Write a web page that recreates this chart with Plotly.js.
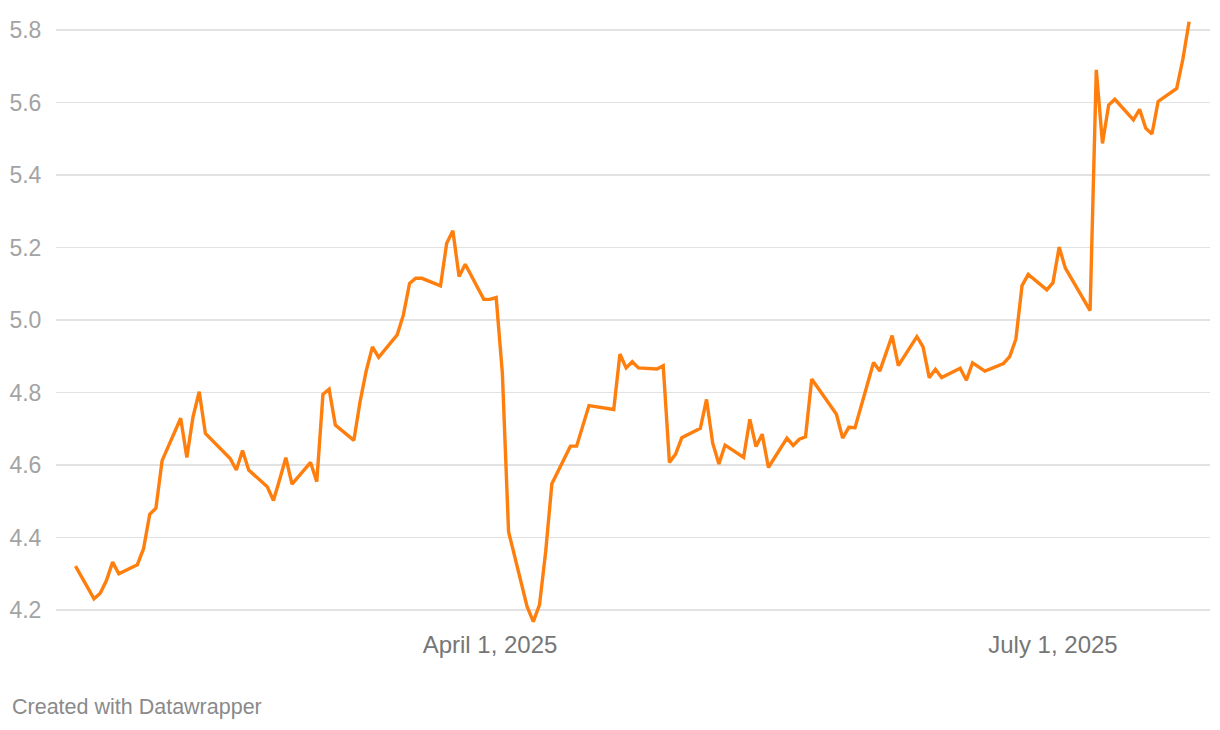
<!DOCTYPE html>
<html>
<head>
<meta charset="utf-8">
<script src="https://cdn.plot.ly/plotly-3.0.1.min.js"></script>
<style>
  html, body { margin: 0; padding: 0; background: #ffffff; }
  #chart { width: 1220px; height: 730px; }
</style>
</head>
<body>
<div id="chart"></div>
<script>
// ---- Data ----
const dates = [
  '2025-01-24','2025-01-27','2025-01-28','2025-01-29','2025-01-30','2025-01-31',
  '2025-02-03','2025-02-04','2025-02-05','2025-02-06','2025-02-07',
  '2025-02-10','2025-02-11','2025-02-12','2025-02-13','2025-02-14',
  '2025-02-18','2025-02-19','2025-02-20','2025-02-21',
  '2025-02-24','2025-02-25','2025-02-26','2025-02-27','2025-02-28',
  '2025-03-03','2025-03-04','2025-03-05','2025-03-06','2025-03-07',
  '2025-03-10','2025-03-11','2025-03-12','2025-03-13','2025-03-14',
  '2025-03-17','2025-03-18','2025-03-19','2025-03-20','2025-03-21',
  '2025-03-24','2025-03-25','2025-03-26','2025-03-27','2025-03-28',
  '2025-03-31','2025-04-01','2025-04-02','2025-04-03','2025-04-04',
  '2025-04-07','2025-04-08','2025-04-09','2025-04-10','2025-04-11',
  '2025-04-14','2025-04-15','2025-04-16','2025-04-17',
  '2025-04-21','2025-04-22','2025-04-23','2025-04-24','2025-04-25',
  '2025-04-28','2025-04-29','2025-04-30','2025-05-01','2025-05-02',
  '2025-05-05','2025-05-06','2025-05-07','2025-05-08','2025-05-09',
  '2025-05-12','2025-05-13','2025-05-14','2025-05-15','2025-05-16',
  '2025-05-19','2025-05-20','2025-05-21','2025-05-22','2025-05-23',
  '2025-05-27','2025-05-28','2025-05-29','2025-05-30',
  '2025-06-02','2025-06-03','2025-06-04','2025-06-05','2025-06-06',
  '2025-06-09','2025-06-10','2025-06-11','2025-06-12','2025-06-13',
  '2025-06-16','2025-06-17','2025-06-18','2025-06-20',
  '2025-06-23','2025-06-24','2025-06-25','2025-06-26','2025-06-27',
  '2025-06-30','2025-07-01','2025-07-02','2025-07-03',
  '2025-07-07','2025-07-08','2025-07-09','2025-07-10','2025-07-11',
  '2025-07-14','2025-07-15','2025-07-16','2025-07-17','2025-07-18',
  '2025-07-21','2025-07-22','2025-07-23'
];

const values = [
  4.321,4.231,4.246,4.281,4.332,4.300,
  4.325,4.369,4.464,4.481,4.612,
  4.729,4.621,4.733,4.802,4.687,
  4.618,4.586,4.640,4.586,
  4.540,4.502,4.560,4.620,4.547,
  4.607,4.554,4.795,4.809,4.710,
  4.668,4.775,4.860,4.926,4.897,
  4.959,5.014,5.101,5.115,5.115,
  5.094,5.212,5.246,5.120,5.154,
  5.057,5.057,5.062,4.853,4.416,
  4.209,4.168,4.214,4.361,4.548,
  4.652,4.652,4.710,4.764,
  4.753,4.906,4.868,4.885,4.868,
  4.865,4.874,4.607,4.630,4.675,
  4.701,4.781,4.660,4.603,4.655,
  4.621,4.726,4.651,4.685,4.593,
  4.674,4.654,4.671,4.678,4.837,
  4.740,4.674,4.704,4.703,
  4.883,4.859,4.910,4.957,4.874,
  4.954,4.926,4.841,4.864,4.841,
  4.867,4.834,4.882,4.859,
  4.880,4.899,4.947,5.095,5.126,
  5.083,5.103,5.201,5.143,
  5.026,5.690,5.487,5.593,5.609,
  5.552,5.581,5.529,5.513,5.603,
  5.639,5.720,5.823
];

const yTickVals = [4.2, 4.4, 4.6, 4.8, 5.0, 5.2, 5.4, 5.6, 5.8];
const yTickText = ['4.2','4.4','4.6','4.8','5.0','5.2','5.4','5.6','5.8'];
const xTickVals = ['2025-04-01', '2025-07-01'];
const xTickText = ['April 1, 2025', 'July 1, 2025'];
const footerText = 'Created with Datawrapper';

// ---- Chart ----
const FONT = '"Liberation Sans", Arial, Helvetica, sans-serif';

const trace = {
  type: 'scatter',
  mode: 'lines',
  x: dates,
  y: values,
  line: { color: '#ff7f0e', width: 3.4, shape: 'linear' },
  hoverinfo: 'skip'
};

const layout = {
  width: 1220,
  height: 730,
  margin: { l: 56, r: 10, t: 12, b: 102, pad: 0 },
  paper_bgcolor: '#ffffff',
  plot_bgcolor: '#ffffff',
  showlegend: false,
  font: { family: FONT },
  xaxis: {
    type: 'date',
    range: ['2025-01-20 20:24', '2025-07-26 09:07'],
    tickmode: 'array',
    tickvals: xTickVals,
    ticktext: xTickText,
    showgrid: false,
    zeroline: false,
    showline: false,
    ticks: '',
    tickfont: { family: FONT, size: 24, color: '#767676' },
    fixedrange: true
  },
  yaxis: {
    range: [4.1503, 5.8497],
    tickmode: 'array',
    tickvals: yTickVals,
    ticktext: yTickText,
    showgrid: true,
    gridcolor: '#e2e2e2',
    gridwidth: 1.3,
    zeroline: false,
    showline: false,
    ticks: 'outside',
    ticklen: 9,
    tickcolor: 'rgba(0,0,0,0)',
    tickfont: { family: FONT, size: 23, color: '#a3a3a3' },
    fixedrange: true
  },
  annotations: [{
    text: footerText,
    xref: 'paper', yref: 'paper',
    x: (10 - 56) / 1154,
    y: (628 - 707) / 616,
    xanchor: 'left', yanchor: 'middle',
    showarrow: false,
    font: { family: FONT, size: 21.5, color: '#8a8a8a' }
  }]
};

Plotly.newPlot('chart', [trace], layout, { staticPlot: true, displayModeBar: false, responsive: false });
</script>
</body>
</html>
